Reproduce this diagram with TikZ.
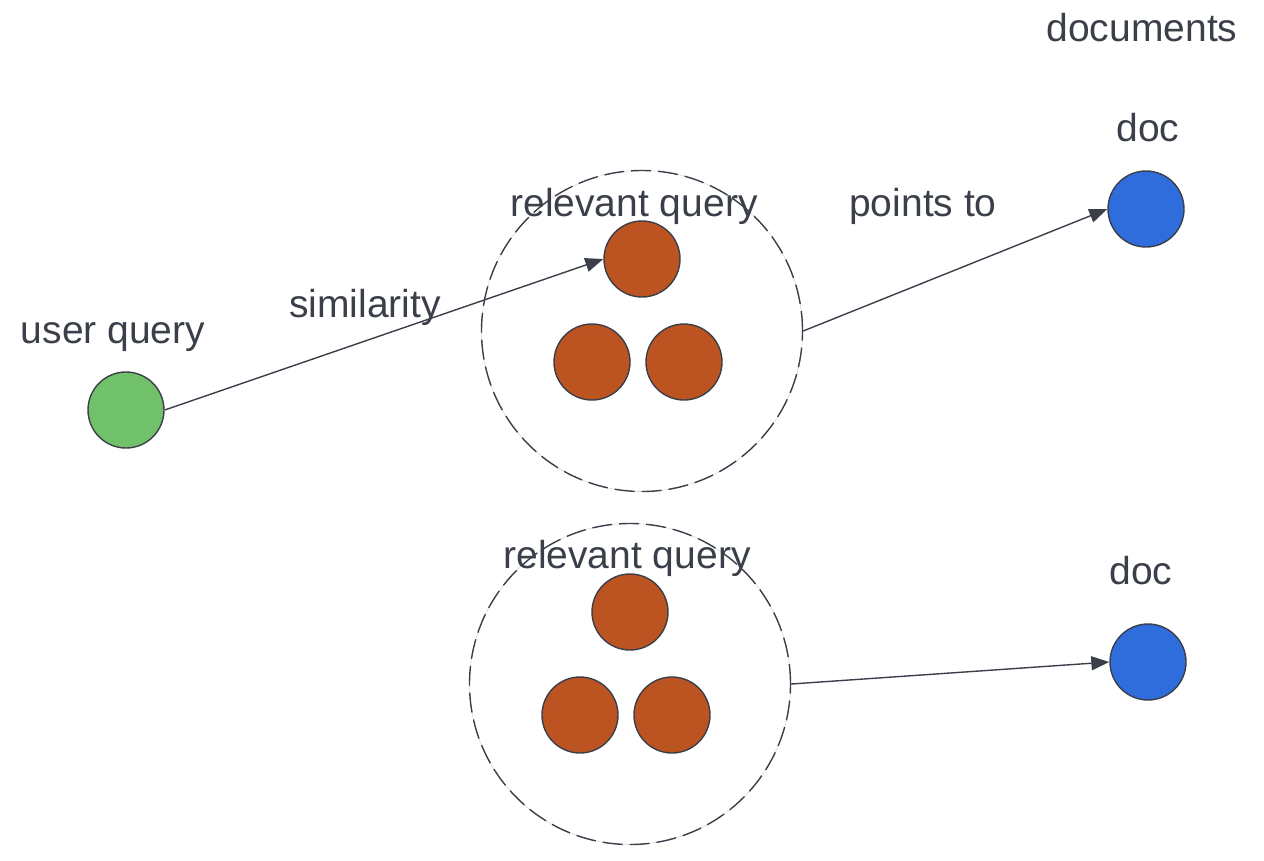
\documentclass[tikz,border=0pt]{standalone}
\usepackage{fontspec}
\setmainfont{Liberation Sans}
\usetikzlibrary{arrows.meta}
\definecolor{ink}{HTML}{3A3F4A}
\definecolor{gfill}{HTML}{71C16B}
\definecolor{ofill}{HTML}{BC5422}
\definecolor{bfill}{HTML}{2F6DDD}
\tikzset{
  lbl/.style={text=ink, font=\fontsize{39}{46}\selectfont, inner sep=0pt, anchor=base},
  dot/.style={circle, draw=ink, line width=1.4pt, minimum size=76pt, inner sep=0pt},
  gdot/.style={dot, fill=gfill},
  odot/.style={dot, fill=ofill},
  bdot/.style={dot, fill=bfill},
  group/.style={circle, draw=ink, line width=1.4pt, dash pattern=on 20pt off 7pt, minimum size=321pt, inner sep=0pt},
  groupbg/.style={circle, draw=black!15, line width=0.6pt, minimum size=321pt, inner sep=0pt},
  conn/.style={draw=ink, line width=1.4pt, -{Triangle[length=18pt,width=14pt]}}
}
\begin{document}
\begin{tikzpicture}[x=1pt,y=-1pt]
\useasboundingbox (0,0) rectangle (1264,860);
% groups
\node[groupbg] at (642,331) {};
\node[group] (c1) at (642,331) {};
\node[groupbg] at (630,684) {};
\node[group] (c2) at (630,684) {};
% nodes
\node[gdot] (u) at (126,410) {};
\node[odot] (q1) at (642,259) {};
\node[odot] (q2) at (592,362) {};
\node[odot] (q3) at (684,362) {};
\node[odot] (r1) at (630,612) {};
\node[odot] (r2) at (580,715) {};
\node[odot] (r3) at (672,715) {};
\node[bdot] (d1) at (1146,209) {};
\node[bdot] (d2) at (1148,662) {};
% labels
\node[lbl] (tdocs) at (1142,41) {documents};
\node[lbl] (tdoc1) at (1148,141) {doc};
\node[lbl] (tdoc2) at (1141,584) {doc};
\node[lbl] (trq1) at (634,216) {relevant query};
\node[lbl] (trq2) at (627,568) {relevant query};
\node[lbl] (tpt) at (923,216) {points to};
\node[lbl] (tsim) at (365,317) {similarity};
\node[lbl] (tuq) at (113,343) {user query};
% connectors
\draw[conn] (u.east) -- (q1.west);
\draw[conn] (c1.east) -- (d1.west);
\draw[conn] (c2.east) -- (d2.west);
\end{tikzpicture}
\end{document}
